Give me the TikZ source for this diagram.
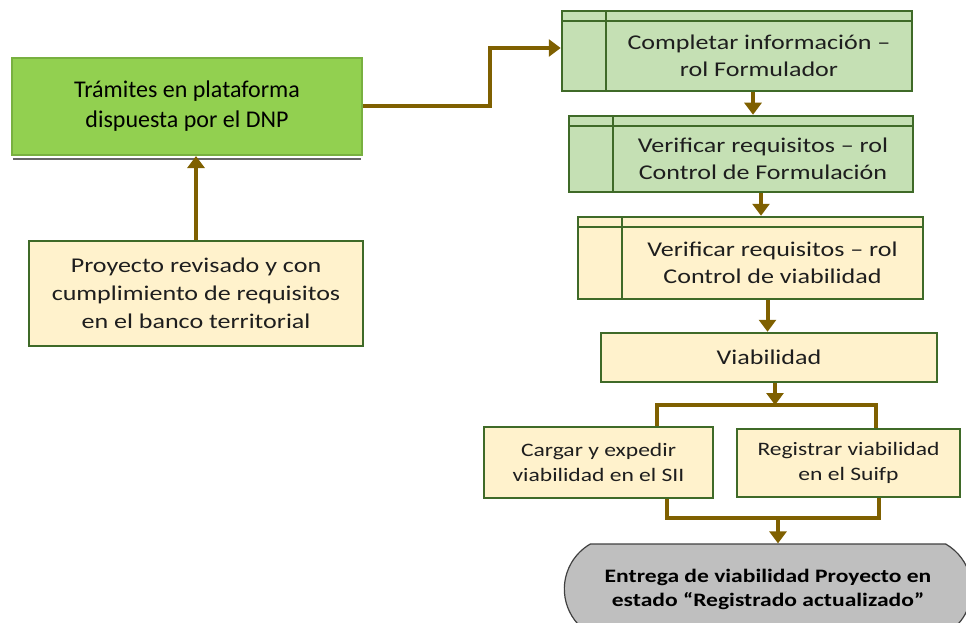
\documentclass[tikz,border=0pt]{standalone}
\usepackage{fontspec}
\setmainfont{Carlito}[FakeStretch=1.24]
\newfontfamily\titlefont{Carlito}
\usetikzlibrary{arrows.meta,shapes.misc}
\definecolor{brn}{HTML}{7F6000}
\definecolor{bgreen}{HTML}{92D050}
\definecolor{bgreenline}{HTML}{78B040}
\definecolor{lgreen}{HTML}{C5E0B4}
\definecolor{dgreen}{HTML}{3F6A28}
\definecolor{cream}{HTML}{FFF2CC}
\definecolor{txtc}{HTML}{1E1E1E}
\definecolor{greyfill}{HTML}{BFBFBF}
\tikzset{
  basebox/.style={draw=dgreen, line width=2.5pt, minimum width=#1},
  creambox/.style={basebox=#1, fill=cream},
  greenbox/.style={basebox=#1, fill=lgreen},
  subproc/.style={path picture={
      \draw[dgreen, line width=2.5pt]
        ([yshift=-10pt]path picture bounding box.north west) -- ([yshift=-10pt]path picture bounding box.north east)
        ([xshift=44pt]path picture bounding box.north west) -- ([xshift=44pt]path picture bounding box.south west);}},
  txt/.style={text=txtc, align=center, font=\fontsize{21}{27}\selectfont},
  arr/.style={draw=brn, line width=4pt, -{Triangle[width=17pt,length=12pt]}},
  conn/.style={draw=brn, line width=4pt},
}
\begin{document}
\begin{tikzpicture}[x=1pt,y=-1pt]
\useasboundingbox (0,0) rectangle (966,623);
\clip (0,0) rectangle (966,623);

% left column
\draw[black!60, line width=1.5pt] (13,159) -- (361,159);
\node[draw=bgreenline, fill=bgreen, line width=2pt, minimum width=350pt, minimum height=97pt,
      txt, text=black, font=\titlefont\fontsize{24}{30}\selectfont] (tram) at (187,106.5)
      {Trámites en plataforma\\dispuesta por el DNP};
\node[creambox=334pt, minimum height=105pt, txt, font=\fontsize{21}{28}\selectfont] (proj) at (196,293.5)
      {Proyecto revisado y con\\cumplimiento de requisitos\\en el banco territorial};

% right column
\node[greenbox=350pt, minimum height=80pt, subproc] (comp) at (737,51) {};
\node[txt] (compt) at (759,56) {Completar información –\\rol Formulador};
\node[greenbox=344pt, minimum height=76pt, subproc] (ver1) at (741,154) {};
\node[txt] (ver1t) at (763,158.5) {Verificar requisitos – rol\\Control de Formulación};
\node[creambox=345pt, minimum height=82pt, subproc] (ver2) at (750.5,258) {};
\node[txt] (ver2t) at (772.5,263) {Verificar requisitos – rol\\Control de viabilidad};
\node[creambox=336pt, minimum height=49pt, txt] (viab) at (769,357.5) {Viabilidad};
\node[creambox=229pt, minimum height=71pt, txt, font=\fontsize{19}{25}\selectfont] (carg) at (598.5,462.5)
      {Cargar y expedir\\viabilidad en el SII};
\node[creambox=223pt, minimum height=68pt, txt, font=\fontsize{19}{25}\selectfont] (regi) at (848.5,463)
      {Registrar viabilidad\\en el Suifp};
\node[rounded rectangle, rounded rectangle arc length=120, draw=black!75, line width=1.2pt, fill=greyfill,
      minimum width=414pt, minimum height=90pt, txt, text=black,
      font=\bfseries\fontsize{19}{24}\selectfont] (entr) at (768,589)
      {Entrega de viabilidad Proyecto en\\estado “Registrado actualizado”};

% connectors
\draw[arr] (proj.north) -- (proj.north |- tram.south);
\draw[arr] (tram.east) -- (490,106.5) |- ([yshift=3pt]comp.west);
\draw[arr] ([xshift=16pt]comp.south) -- ([xshift=16pt]comp.south |- ver1.north);
\draw[arr] ([xshift=20pt]ver1.south) -- ([xshift=20pt]ver1.south |- ver2.north);
\draw[arr] ([xshift=17pt]ver2.south) -- ([xshift=17pt]ver2.south |- viab.north);
\coordinate (split) at (775,405);
\draw[conn] ([xshift=58pt]carg.north) |- (split) -| ([xshift=27pt]regi.north);
\draw[arr] ([xshift=6pt]viab.south) -- (split);
\coordinate (join) at (778,518);
\draw[conn] ([xshift=68pt]carg.south) |- (join) -| ([xshift=30pt]regi.south);
\draw[arr] (join) -- (join |- entr.north);
\end{tikzpicture}
\end{document}
